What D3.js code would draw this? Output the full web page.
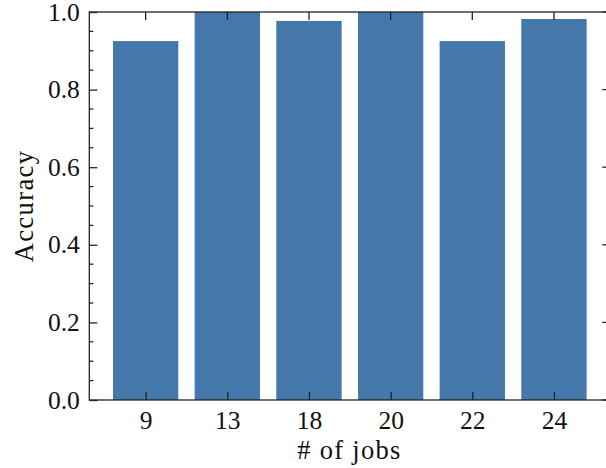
<!DOCTYPE html>
<html>
<head>
<meta charset="utf-8">
<script src="https://cdn.jsdelivr.net/npm/d3@7"></script>
<style>
  html, body { margin: 0; padding: 0; background: #fff; }
  svg { display: block; }
  text { font-family: "Liberation Serif", "DejaVu Serif", serif; fill: #111; }
</style>
</head>
<body>
<svg id="chart" width="606" height="468"></svg>
<script>
const categories = ["9", "13", "18", "20", "22", "24"];
const accuracy = [0.925, 1.0, 0.977, 1.0, 0.925, 0.982];
const yTicks = [0.0, 0.2, 0.4, 0.6, 0.8, 1.0];
const yMinorTicks = d3.range(0, 1.0001, 0.05);

(function () {
const svg = d3.select("#chart");
const mLeft = 89.3, mRight = 610.3, mTop = 12, mBottom = 400;
const fontSize = 25.5;

const x = d3.scaleLinear().domain([-0.69, categories.length - 1 + 0.69]).range([mLeft, mRight]);
const y = d3.scaleLinear().domain([0, 1]).range([mBottom, mTop]);
const barW = x(0.8) - x(0);

svg.append("g").selectAll("rect").data(accuracy).join("rect")
  .attr("x", (d, i) => x(i) - barW / 2)
  .attr("width", barW)
  .attr("y", d => y(d))
  .attr("height", d => y(0) - y(d))
  .attr("fill", "#4477AA");

const tickColor = "#222";
const sw = 1.3;
const majorLen = 8, minorLen = 4;

const yAxis = d3.axisLeft(y).tickValues(yTicks).tickFormat(d3.format(".1f"))
  .tickSizeInner(-majorLen).tickSizeOuter(0).tickPadding(9.5);
const gy = svg.append("g").attr("transform", `translate(${mLeft},0)`).call(yAxis);
gy.select(".domain").remove();
gy.selectAll("line").attr("stroke", tickColor).attr("stroke-width", sw);
gy.selectAll("text").attr("font-size", fontSize).attr("font-family", "Liberation Serif").attr("fill", "#111");

const minors = yMinorTicks.filter(v => !yTicks.some(t => Math.abs(t - v) < 1e-6));
svg.append("g").selectAll("line").data(minors).join("line")
  .attr("x1", mLeft).attr("x2", mLeft + minorLen)
  .attr("y1", d => y(d)).attr("y2", d => y(d))
  .attr("stroke", tickColor).attr("stroke-width", sw);
svg.append("g").selectAll("line").data(minors).join("line")
  .attr("x1", mRight).attr("x2", mRight - minorLen)
  .attr("y1", d => y(d)).attr("y2", d => y(d))
  .attr("stroke", tickColor).attr("stroke-width", sw);
svg.append("g").selectAll("line").data(yTicks).join("line")
  .attr("x1", mRight).attr("x2", mRight - majorLen)
  .attr("y1", d => y(d)).attr("y2", d => y(d))
  .attr("stroke", tickColor).attr("stroke-width", sw);

const xAxis = d3.axisBottom(x).tickValues(d3.range(categories.length))
  .tickFormat(i => categories[i]).tickSizeInner(-majorLen).tickSizeOuter(0).tickPadding(0);
const gx = svg.append("g").attr("transform", `translate(0,${mBottom})`).call(xAxis);
gx.select(".domain").remove();
gx.selectAll("line").attr("stroke", tickColor).attr("stroke-width", sw);
gx.selectAll("text").attr("font-size", fontSize).attr("font-family", "Liberation Serif")
  .attr("fill", "#111").attr("dy", null).attr("y", 29);

svg.append("g").selectAll("line").data(d3.range(categories.length)).join("line")
  .attr("x1", d => x(d)).attr("x2", d => x(d))
  .attr("y1", mTop).attr("y2", mTop + majorLen)
  .attr("stroke", tickColor).attr("stroke-width", sw);

svg.append("rect").attr("x", mLeft).attr("y", mTop)
  .attr("width", mRight - mLeft).attr("height", mBottom - mTop)
  .attr("fill", "none").attr("stroke", tickColor).attr("stroke-width", sw);

svg.append("text").attr("x", 349.5).attr("y", 459)
  .attr("text-anchor", "middle").attr("font-size", 26.5).attr("letter-spacing", "1.3px")
  .text("# of jobs");
svg.append("text").attr("transform", `translate(33,${(mTop + mBottom) / 2}) rotate(-90)`)
  .attr("text-anchor", "middle").attr("font-size", 26.5).attr("letter-spacing", "1.4px")
  .text("Accuracy");
})();
</script>
</body>
</html>
